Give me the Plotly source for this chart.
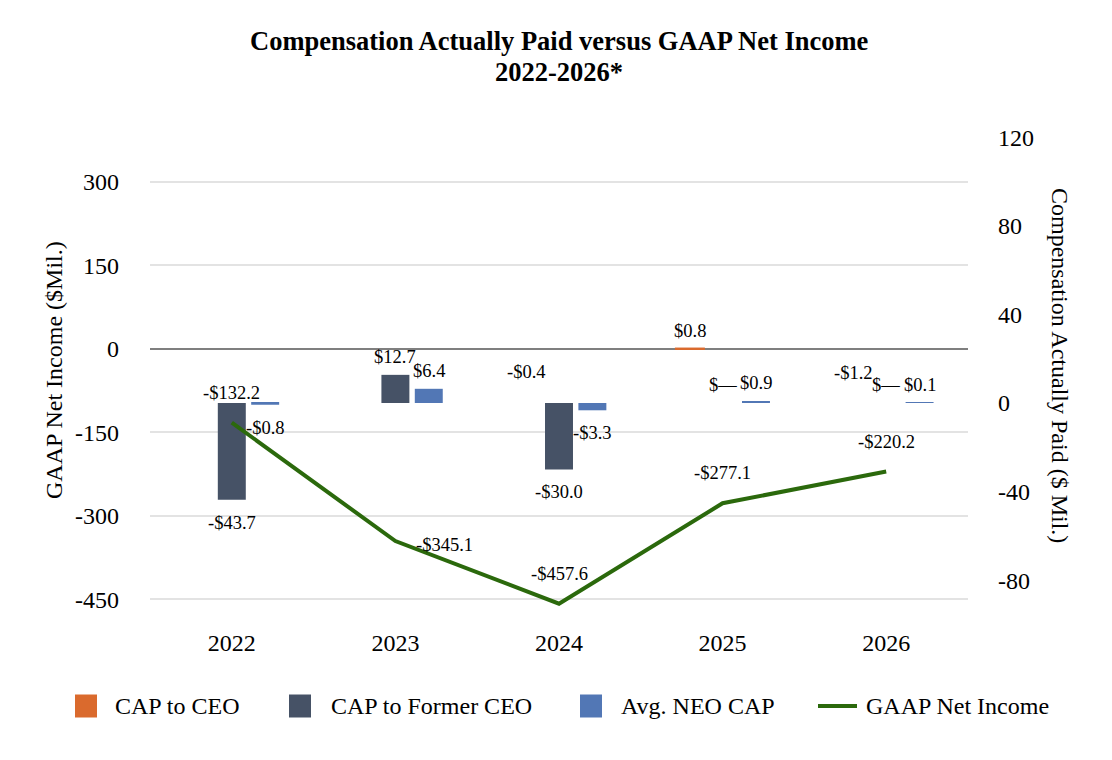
import plotly.graph_objects as go

# ---------------- data ----------------
years = ["2022", "2023", "2024", "2025", "2026"]
cap_ceo = [None, None, -0.4, 0.8, -1.2]          # CAP to CEO ($ Mil.)
cap_former_ceo = [-43.7, 12.7, -30.0, 0.0, 0.0]  # CAP to Former CEO ($ Mil.)
avg_neo_cap = [-0.8, 6.4, -3.3, 0.9, 0.1]        # Avg. NEO CAP ($ Mil.)
gaap_net_income = [-132.2, -345.1, -457.6, -277.1, -220.2]  # GAAP Net Income ($Mil.)

left_tickvals = [-450, -300, -150, 0, 150, 300]
left_ticktext = ["-450", "-300", "-150", "0", "150", "300"]
right_tickvals = [-80, -40, 0, 40, 80, 120]
right_ticktext = ["-80", "-40", "0", "40", "80", "120"]

series_names = ["CAP to CEO", "CAP to Former CEO", "Avg. NEO CAP", "GAAP Net Income"]
title_line1 = "Compensation Actually Paid versus GAAP Net Income"
title_line2 = "2022-2026*"

# ---------------- style ----------------
FONT = "Liberation Serif"
ORANGE = "#DA6A2D"
SLATE = "#465266"
BLUE = "#5277B5"
GREEN = "#2B690C"

# plot area in pixels
PL, PR, PT, PB = 150, 968, 130, 630
W_FIG, H_FIG = 1112, 760

BAR_W = 0.171
CENTER = {"ceo": -0.200, "former": 0.0, "neo": 0.204}


def px_x(px):
    return (px - PL) / (PR - PL)


def px_y(py):
    return (PB - py) / (PB - PT)


def fmt(v):
    if v == 0:
        return "$\u2014"
    return ("-" if v < 0 else "") + "$" + f"{abs(v):.1f}"


fig = go.Figure()

fig.add_trace(go.Bar(
    name=series_names[0], x=years, y=cap_ceo, yaxis="y2",
    width=BAR_W, offset=CENTER["ceo"] - BAR_W / 2,
    marker=dict(color=ORANGE, opacity=[1, 1, 0, 1, 0],
                line=dict(color=ORANGE, width=[0, 0, 0, 2, 0])),
    showlegend=False, hoverinfo="skip",
))
fig.add_trace(go.Bar(
    name=series_names[1], x=years, y=cap_former_ceo, yaxis="y",
    width=BAR_W, offset=CENTER["former"] - BAR_W / 2,
    marker=dict(color=SLATE, line=dict(width=0)), showlegend=False,
))
fig.add_trace(go.Bar(
    name=series_names[2], x=years, y=avg_neo_cap, yaxis="y",
    width=BAR_W, offset=CENTER["neo"] - BAR_W / 2,
    marker=dict(color=BLUE, line=dict(width=0)), showlegend=False,
))
fig.add_trace(go.Scatter(
    name=series_names[3], x=years, y=gaap_net_income, yaxis="y2",
    mode="lines", line=dict(color=GREEN, width=4), showlegend=False,
))

annotations = []
shapes = []
label_font = dict(family=FONT, size=18.5, color="black")


def bar_labels(values, key, yref):
    for i, v in enumerate(values):
        if v is None:
            continue
        annotations.append(dict(
            x=i + CENTER[key], y=v, xref="x", yref=yref,
            text=fmt(v), showarrow=False, font=label_font,
            xanchor="center", yanchor="middle",
            yshift=-23 if v < 0 else 18,
        ))


bar_labels(cap_ceo, "ceo", "y2")
bar_labels(cap_former_ceo, "former", "y")
bar_labels(avg_neo_cap, "neo", "y")

for i, v in enumerate(gaap_net_income):
    if i == 1:
        annotations.append(dict(x=i, y=v, xref="x", yref="y2", text=fmt(v),
                                showarrow=False, font=label_font,
                                xanchor="left", yanchor="middle",
                                xshift=19, yshift=-4))
    else:
        annotations.append(dict(x=i, y=v, xref="x", yref="y2", text=fmt(v),
                                showarrow=False, font=label_font,
                                xanchor="center", yanchor="middle",
                                yshift=30))

# title (two lines)
title_font = dict(family=FONT, size=26.5, color="black")
annotations.append(dict(x=px_x(559), y=px_y(41), xref="paper", yref="paper",
                        text="<b>" + title_line1 + "</b>", showarrow=False,
                        font=title_font, xanchor="center", yanchor="middle"))
annotations.append(dict(x=px_x(559), y=px_y(72), xref="paper", yref="paper",
                        text="<b>" + title_line2 + "</b>", showarrow=False,
                        font=title_font, xanchor="center", yanchor="middle"))

# axis titles
annotations.append(dict(
    x=px_x(54), y=px_y(370), xref="paper", yref="paper",
    text="GAAP Net Income ($Mil.)", textangle=-90, showarrow=False,
    font=dict(family=FONT, size=24, color="black"),
    xanchor="center", yanchor="middle",
))
annotations.append(dict(
    x=px_x(1060), y=px_y(365), xref="paper", yref="paper",
    text="Compensation Actually Paid ($ Mil.)", textangle=90, showarrow=False,
    font=dict(family=FONT, size=24, color="black"),
    xanchor="center", yanchor="middle",
))

# legend (drawn below the plot)
LEG_Y = 706
legend_items = [
    (series_names[0], ORANGE, "box", 75, 97, 113),
    (series_names[1], SLATE, "box", 289, 311, 329),
    (series_names[2], BLUE, "box", 580, 602, 619),
    (series_names[3], GREEN, "line", 818, 857, 864),
]
for name, color, kind, s0, s1, tx in legend_items:
    if kind == "box":
        shapes.append(dict(type="rect", xref="paper", yref="paper",
                           x0=px_x(s0), x1=px_x(s1),
                           y0=px_y(LEG_Y - 11.5), y1=px_y(LEG_Y + 11.5),
                           fillcolor=color, line=dict(width=0)))
    else:
        shapes.append(dict(type="line", xref="paper", yref="paper",
                           x0=px_x(s0), x1=px_x(s1),
                           y0=px_y(LEG_Y), y1=px_y(LEG_Y),
                           line=dict(color=color, width=4)))
    annotations.append(dict(x=px_x(tx), y=px_y(LEG_Y), xref="paper", yref="paper",
                            text=name, showarrow=False,
                            font=dict(family=FONT, size=24, color="black"),
                            xanchor="left", yanchor="middle"))

fig.update_layout(
    width=W_FIG, height=H_FIG,
    margin=dict(l=PL, r=W_FIG - PR, t=PT, b=H_FIG - PB),
    paper_bgcolor="white", plot_bgcolor="white",
    font=dict(family=FONT, color="black", size=24),
    barmode="overlay",
    showlegend=False,
    xaxis=dict(
        type="category", range=[-0.5, 4.5],
        showgrid=False, zeroline=False, showline=False, ticks="",
        ticklabelstandoff=-4,
        tickfont=dict(family=FONT, size=24, color="black"),
    ),
    yaxis=dict(
        side="right", range=[-102.5, 123.25],
        tickmode="array", tickvals=right_tickvals, ticktext=right_ticktext,
        showgrid=False, zeroline=False, showline=False, ticks="",
        ticklabelstandoff=29,
        tickfont=dict(family=FONT, size=24, color="black"),
    ),
    yaxis2=dict(
        side="left", overlaying="y", range=[-504.8, 393.4],
        tickmode="array", tickvals=left_tickvals, ticktext=left_ticktext,
        showgrid=True, gridcolor="#E3E3E3", gridwidth=1.5,
        zeroline=True, zerolinecolor="#7F7F7F", zerolinewidth=2,
        showline=False, ticks="",
        ticklabelstandoff=30,
        tickfont=dict(family=FONT, size=24, color="black"),
    ),
    annotations=annotations,
    shapes=shapes,
)

fig.write_html("out.html")
